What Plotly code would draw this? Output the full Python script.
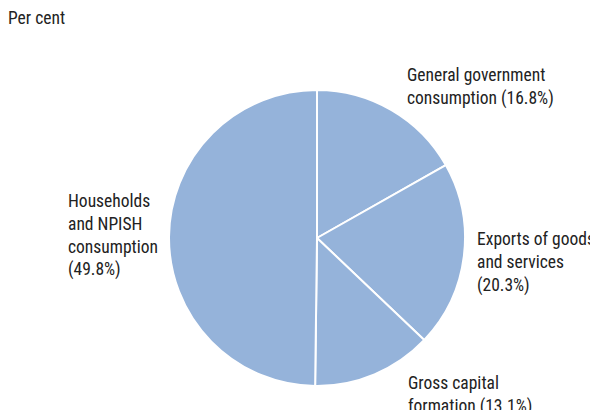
import plotly.graph_objects as go

labels = ["General government consumption", "Exports of goods and services",
          "Gross capital formation", "Households and NPISH consumption"]
values = [16.8, 20.3, 13.1, 49.8]
label_text = ["General government<br>consumption (16.8%)",
              "Exports of goods<br>and services<br>(20.3%)",
              "Gross capital<br>formation (13.1%)",
              "Households<br>and NPISH<br>consumption<br>(49.8%)"]

# page body adds an 8px margin, so the figure is sized to fit the window
OFF = 8
W, H = 598 - OFF, 410 - OFF
FONT = "Roboto Condensed, Liberation Sans Narrow, sans-serif"
FS = 17.5


def px(x, y):
    # window pixel -> paper fraction
    return (x - OFF) / W, 1 - (y - OFF + 1) / H


# left edge / first line centre of each label block, in window pixels
label_pos = [(405, 74), (475, 238), (406, 382), (66, 200)]

x0, y1 = px(169, 89)
x1, y0 = px(465, 385)
fig = go.Figure(go.Pie(
    labels=labels,
    values=values,
    sort=False,
    direction="clockwise",
    rotation=0,
    textinfo="none",
    hoverinfo="label+value",
    marker=dict(colors=["#95b3da"] * 4, line=dict(color="white", width=2)),
    domain=dict(x=[x0, x1], y=[max(y0, 0), y1]),
    showlegend=False,
))

for t, (lx, ly) in zip(label_text, label_pos):
    ax, ay = px(lx, ly - 12)
    fig.add_annotation(text=t, x=ax, y=ay, xref="paper", yref="paper",
                       xanchor="left", yanchor="top", align="left",
                       showarrow=False, font=dict(size=FS, color="#222222", family=FONT))

ax, ay = px(6, 17 - 12)
fig.add_annotation(text="Per cent", x=ax, y=ay, xref="paper", yref="paper",
                   xanchor="left", yanchor="top", showarrow=False,
                   font=dict(size=FS, color="#222222", family=FONT))

fig.update_layout(
    width=W, height=H,
    margin=dict(l=0, r=0, t=0, b=0),
    paper_bgcolor="white",
    plot_bgcolor="white",
)

fig.write_html("out.html")
